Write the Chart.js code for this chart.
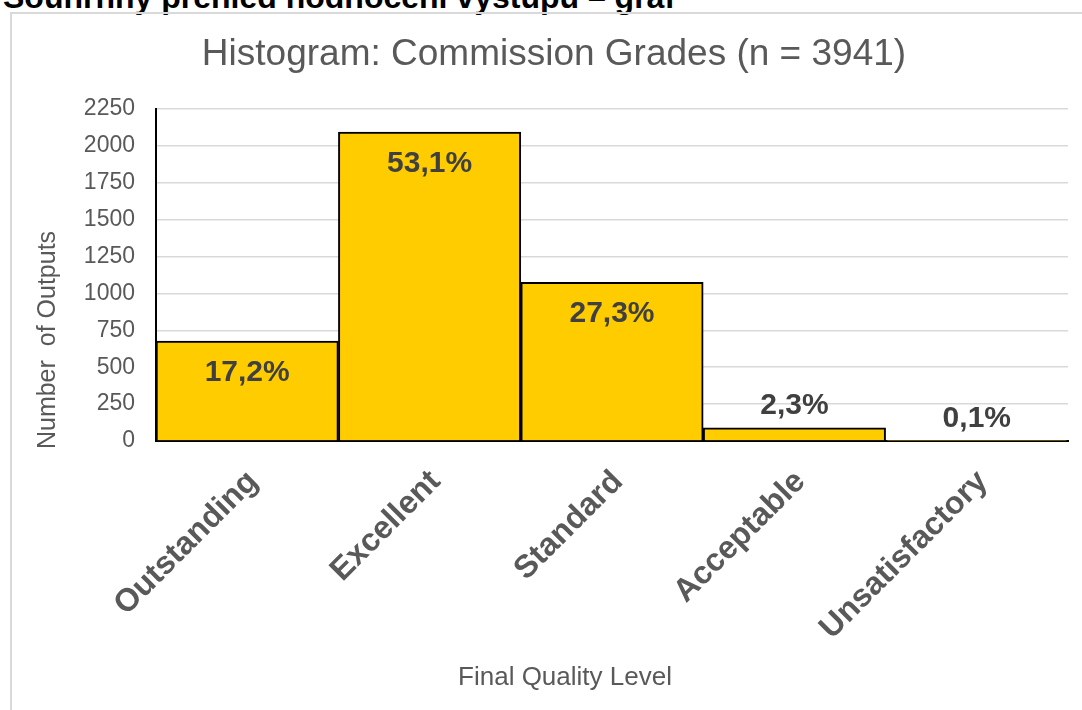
<!DOCTYPE html>
<html>
<head>
<meta charset="utf-8">
<script src="https://cdn.jsdelivr.net/npm/chart.js@4.4.1/dist/chart.umd.min.js"></script>
<style>
  html, body { margin: 0; padding: 0; background: #fff; overflow: hidden; }
  #heading {
    position: absolute; left: 3px; top: -19px; margin: 0;
    font: bold 32px "Liberation Sans", Arial, sans-serif; line-height: 1;
    color: #000; white-space: nowrap;
  }
  #frame {
    position: absolute; left: 10px; top: 12px; width: 1090px; height: 720px;
    border: 2px solid #d9d9d9;
  }
  #wrap { position: absolute; left: 0; top: 0; width: 1082px; height: 710px; }
</style>
</head>
<body>
<div id="heading">Souhrnný přehled hodnocení výstupů – graf</div>
<div id="frame"></div>
<div id="wrap"><canvas id="myChart" width="1082" height="710"></canvas></div>
<script>
var categories = ['Outstanding', 'Excellent', 'Standard', 'Acceptable', 'Unsatisfactory'];
var outputCounts = [678, 2093, 1076, 90, 4];
var totalOutputs = 3941;
var yMin = 0, yMax = 2250, yStep = 250;

var chartTitle = 'Histogram: Commission Grades (n = ' + totalOutputs + ')';
var xTitle = 'Final Quality Level';
var yTitle = 'Number  of Outputs';

var FONT = '"Liberation Sans", Arial, sans-serif';
var GREY = '#595959';

// percentage labels on the bars (inside for tall bars, above for short ones)
var barLabels = {
    id: 'barLabels',
    afterDatasetsDraw: function (chart) {
        var ctx = chart.ctx;
        var meta = chart.getDatasetMeta(0);
        ctx.save();
        ctx.font = 'bold 30px ' + FONT;
        ctx.fillStyle = '#404040';
        ctx.textAlign = 'center';
        ctx.textBaseline = 'middle';
        meta.data.forEach(function (bar, i) {
            var text = (outputCounts[i] / totalOutputs * 100).toFixed(1).replace('.', ',') + '%';
            var inside = bar.base - bar.y > 60;
            ctx.fillText(text, bar.x, inside ? bar.y + 32 : bar.y - 22);
        });
        ctx.restore();
    }
};

// chart title and axis titles, placed like the Excel original (not centred on the plot)
var titles = {
    id: 'titles',
    afterDraw: function (chart) {
        var ctx = chart.ctx;
        ctx.save();
        ctx.fillStyle = GREY;
        ctx.textAlign = 'center';
        ctx.textBaseline = 'middle';

        ctx.font = '37px ' + FONT;
        ctx.fillText(chartTitle, 554, 55);

        ctx.font = '26px ' + FONT;
        ctx.fillText(xTitle, 565, 678);

        ctx.font = '25px ' + FONT;
        ctx.translate(48, 340);
        ctx.rotate(-Math.PI / 2);
        ctx.fillText(yTitle, 0, 0);
        ctx.restore();
    }
};

document.addEventListener('DOMContentLoaded', function () {
    var ctx = document.getElementById('myChart').getContext('2d');
    new Chart(ctx, {
        type: 'bar',
        data: {
            labels: categories,
            datasets: [{
                label: 'Number of Outputs',
                data: outputCounts,
                backgroundColor: '#FFCC00',
                borderColor: '#000000',
                borderWidth: 2,
                categoryPercentage: 1,
                barPercentage: 1
            }]
        },
        options: {
            responsive: false,
            animation: false,
            layout: { padding: { left: 29, right: 14, top: 109, bottom: 12 } },
            plugins: {
                legend: { display: false },
                tooltip: { enabled: false },
                title: { display: false }
            },
            scales: {
                x: {
                    grid: { display: false },
                    border: { color: '#000', width: 2 },
                    ticks: {
                        color: GREY,
                        font: { family: FONT, size: 32, weight: 'bold' },
                        minRotation: 45,
                        maxRotation: 45,
                        autoSkip: false,
                        labelOffset: 6,
                        padding: 14
                    },
                    afterFit: function (scale) { scale.height = 257; }
                },
                y: {
                    min: yMin,
                    max: yMax,
                    grid: { color: '#d9d9d9', lineWidth: 1.5, drawTicks: false },
                    border: { color: '#000', width: 2 },
                    ticks: {
                        stepSize: yStep,
                        color: GREY,
                        font: { family: FONT, size: 23 },
                        padding: 21,
                        callback: function (value) { return String(value); }
                    },
                    afterFit: function (scale) { scale.width = 127; }
                }
            }
        },
        plugins: [barLabels, titles]
    });
});
</script>
</body>
</html>
